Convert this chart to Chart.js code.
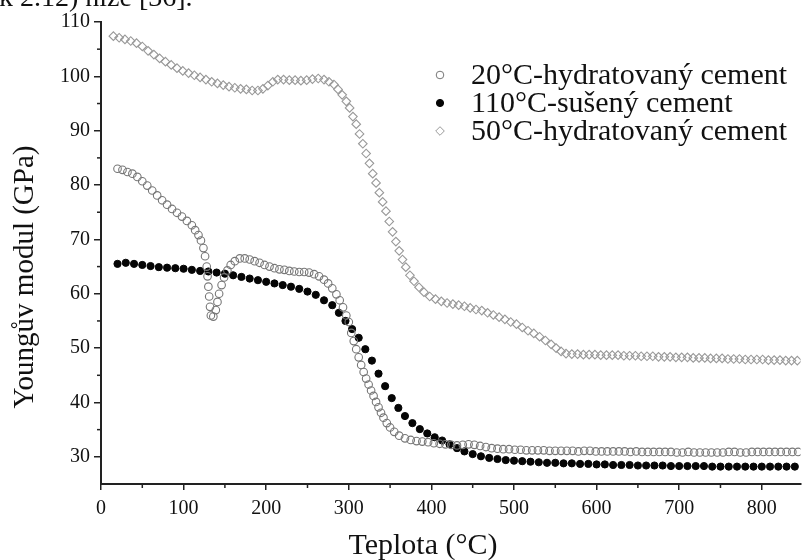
<!DOCTYPE html>
<html><head><meta charset="utf-8">
<script src="https://cdn.jsdelivr.net/npm/chart.js@4.4.1/dist/chart.umd.min.js"></script>
<style>html,body{margin:0;padding:0;background:#fff;overflow:hidden}
#wrap{position:relative;width:806px;height:560px}
canvas{position:absolute;left:0;top:0}
</style></head><body><div id="wrap"><canvas id="c" width="806" height="560"></canvas></div>
<script>
const xTicks=[0,100,200,300,400,500,600,700,800];
const xMinorTicks=[50,150,250,350,450,550,650,750];
const yTicks=[30,40,50,60,70,80,90,100,110];
const yMinorTicks=[35,45,55,65,75,85,95,105];
const seriesNames=['20°C-hydratovaný cement','110°C-sušený cement','50°C-hydratovaný cement'];
const xTitle='Teplota (°C)';
const yTitle='Youngův modul (GPa)';
const topCaption='k 2.12) níže [36].';

const temps20=[20,26,32,38,44,50,56,62,68,74,80,86,92,98,104,110,114,118,121,124,126,128,129,130,131,132,133,136,139,141,143,146,149,153,157,162,168,174,180,186,192,198,204,210,216,222,228,234,240,246,252,258,264,270,275,280,285,289,293,297,300,303,306,309,312,315,318,321,324,327,330,333,336,339,342,346,350,355,361,368,375,382,389,396,403,410,417,424,431,438,445,452,459,466,473,480,487,494,501,508,515,522,529,536,543,550,557,564,571,578,585,592,599,606,613,620,627,634,641,648,655,662,669,676,683,690,697,704,711,718,725,732,739,746,753,760,767,774,781,788,795,802,809,816,823,830,837,844];
const modulus20=[83.0,82.8,82.4,82.1,81.5,80.7,79.9,79.0,78.1,77.2,76.4,75.6,74.9,74.2,73.4,72.6,71.7,70.8,69.8,68.4,66.9,65.0,63.2,61.3,59.5,57.6,56.0,55.8,57.0,58.5,60.0,61.6,63.0,64.3,65.3,66.0,66.5,66.5,66.3,66.0,65.7,65.3,65.0,64.7,64.5,64.4,64.2,64.1,64.0,64.0,63.9,63.6,63.2,62.6,61.9,61.0,59.9,58.8,57.5,56.0,54.8,52.8,51.3,49.8,48.3,46.9,45.6,44.4,43.3,42.2,41.2,40.1,39.1,38.1,37.2,36.2,35.4,34.6,33.9,33.4,33.1,32.9,32.8,32.7,32.5,32.4,32.3,32.2,32.1,32.2,32.3,32.2,32.0,31.8,31.6,31.5,31.4,31.4,31.3,31.3,31.2,31.2,31.2,31.2,31.1,31.1,31.1,31.1,31.1,31.0,31.1,31.1,31.0,31.0,31.0,31.0,31.0,31.0,30.9,31.0,30.9,30.9,30.9,30.9,30.9,30.9,30.8,30.8,30.9,30.8,30.8,30.8,30.8,30.8,30.8,30.9,30.9,30.8,30.8,30.9,30.9,30.9,30.9,30.9,30.9,30.9,30.9,30.9];

const temps110=[20,30,40,50,60,70,80,90,100,110,120,130,140,150,160,170,180,190,200,210,220,230,240,250,260,270,280,288,296,304,312,320,328,336,344,352,360,368,377,386,395,404,413,422,431,440,450,460,470,480,490,500,510,520,530,540,550,560,570,580,590,600,610,620,630,640,650,660,670,680,690,700,710,720,730,740,750,760,770,780,790,800,810,820,830,840];
const modulus110=[65.5,65.7,65.5,65.3,65.1,64.9,64.8,64.7,64.6,64.4,64.2,64.1,63.9,63.7,63.4,63.1,62.8,62.5,62.2,61.9,61.6,61.3,60.9,60.4,59.8,58.8,57.9,56.5,55.0,53.5,51.9,49.8,47.7,45.3,43.0,40.8,39.0,37.5,36.2,35.1,34.3,33.6,33.0,32.3,31.6,31.0,30.5,30.1,29.8,29.6,29.4,29.3,29.2,29.1,29.0,28.9,28.9,28.8,28.8,28.7,28.7,28.6,28.6,28.5,28.5,28.5,28.4,28.4,28.4,28.4,28.3,28.3,28.3,28.3,28.3,28.2,28.2,28.2,28.2,28.2,28.2,28.2,28.2,28.2,28.2,28.2];

const temps50=[15,22,29,36,43,50,57,64,71,78,85,92,99,106,113,120,127,134,141,148,155,162,169,176,183,190,196,202,208,214,221,228,235,242,249,256,263,270,276,282,287,292,297,301,305,309,313,317,321,325,329,333,337,341,345,349,353,357,361,365,369,374,379,385,391,398,405,412,419,426,433,440,447,454,461,468,475,482,489,496,503,510,517,524,531,538,545,551,557,563,570,577,584,591,598,605,612,619,626,633,640,647,654,661,668,675,682,689,696,703,710,717,724,731,738,745,752,759,766,773,780,787,794,801,808,815,822,829,836,843];
const modulus50=[107.4,107.1,106.8,106.5,106.1,105.5,104.7,104.0,103.3,102.7,102.1,101.5,101.0,100.6,100.2,99.8,99.4,99.0,98.7,98.4,98.1,97.9,97.7,97.6,97.4,97.4,97.7,98.3,99.0,99.4,99.4,99.3,99.3,99.2,99.3,99.5,99.6,99.4,99.0,98.5,97.6,96.6,95.4,94.2,92.6,91.2,89.4,87.6,85.8,84.0,82.1,80.4,78.6,76.9,75.2,73.3,71.4,69.6,67.9,66.3,64.9,63.4,62.3,61.2,60.3,59.5,59.0,58.6,58.3,58.1,57.9,57.7,57.4,57.1,56.9,56.5,56.1,55.7,55.3,54.8,54.4,53.8,53.2,52.7,52.1,51.4,50.7,50.0,49.4,49.0,48.9,48.9,48.8,48.8,48.8,48.7,48.7,48.7,48.7,48.6,48.6,48.6,48.5,48.5,48.5,48.4,48.4,48.4,48.3,48.3,48.3,48.2,48.2,48.2,48.1,48.1,48.1,48.0,48.0,48.0,47.9,47.9,47.9,47.9,47.8,47.8,47.8,47.7,47.7,47.7];

const pts=(xs,ys)=>xs.map((x,i)=>({x:x,y:ys[i]}));
const SERIF='"Liberation Serif","Times New Roman",serif';
const styles=[
  {pointStyle:'circle',pointRadius:3.8,backgroundColor:'rgba(255,255,255,0)',borderColor:'#777',borderWidth:1.1},
  {pointStyle:'circle',pointRadius:3.6,backgroundColor:'#050505',borderColor:'#050505',borderWidth:1},
  {pointStyle:'rectRot',pointRadius:4.3,backgroundColor:'rgba(255,255,255,0)',borderColor:'#999',borderWidth:1.1}
];

const decor={
  id:'decor',
  afterDraw(chart){
    const ctx=chart.ctx, xs=chart.scales.x, ys=chart.scales.y, ca=chart.chartArea;
    ctx.save();
    ctx.strokeStyle='#222'; ctx.lineWidth=1.5;
    yMinorTicks.forEach(v=>{const p=ys.getPixelForValue(v);ctx.beginPath();ctx.moveTo(ca.left-4,p);ctx.lineTo(ca.left,p);ctx.stroke();});
    xMinorTicks.forEach(v=>{const p=xs.getPixelForValue(v);ctx.beginPath();ctx.moveTo(p,ca.bottom);ctx.lineTo(p,ca.bottom+4);ctx.stroke();});
    ctx.fillStyle='#111';
    ctx.font='28px '+SERIF; ctx.textAlign='left'; ctx.textBaseline='alphabetic';
    ctx.fillText(topCaption,-1,6);
    ctx.textAlign='center'; ctx.textBaseline='middle';
    ctx.font='30px '+SERIF;
    ctx.fillText(xTitle,423,546);
    ctx.font='29px '+SERIF;
    ctx.save(); ctx.translate(25,277); ctx.rotate(-Math.PI/2); ctx.fillText(yTitle,0,0); ctx.restore();
    const ly=[75,103,131];
    ctx.font='30px '+SERIF; ctx.textAlign='left';
    seriesNames.forEach((n,i)=>{
      const s=styles[i], x=440, y=ly[i];
      ctx.beginPath();
      if(s.pointStyle==='rectRot'){ctx.moveTo(x,y-s.pointRadius);ctx.lineTo(x+s.pointRadius,y);ctx.lineTo(x,y+s.pointRadius);ctx.lineTo(x-s.pointRadius,y);ctx.closePath();}
      else ctx.arc(x,y,s.pointRadius,0,Math.PI*2);
      ctx.fillStyle=s.backgroundColor; ctx.fill();
      ctx.strokeStyle=s.borderColor; ctx.lineWidth=1; ctx.stroke();
      ctx.fillStyle='#111';
      ctx.fillText(n,471,y+1);
    });
    ctx.restore();
  }
};

const ds=[pts(temps20,modulus20),pts(temps110,modulus110),pts(temps50,modulus50)].map((d,i)=>Object.assign({label:seriesNames[i],data:d,showLine:false},styles[i]));

new Chart(document.getElementById('c'),{
  type:'scatter',
  data:{datasets:ds},
  plugins:[decor],
  options:{
    responsive:false,animation:false,
    layout:{padding:{top:22,right:0,left:0,bottom:0}},
    plugins:{legend:{display:false},tooltip:{enabled:false}},
    scales:{
      x:{type:'linear',min:0,max:847,
        afterBuildTicks:s=>{s.ticks=xTicks.map(v=>({value:v}));},
        afterFit:s=>{s.height=76;},
        grid:{drawOnChartArea:false,drawTicks:true,tickLength:6,color:'#222',lineWidth:1.5},
        border:{display:true,color:'#222',width:2},
        ticks:{font:{family:SERIF,size:20},color:'#111',padding:7,maxRotation:0,autoSkip:false}},
      y:{type:'linear',min:25,max:110,
        afterBuildTicks:s=>{s.ticks=yTicks.map(v=>({value:v}));},
        afterFit:s=>{s.width=101;},
        grid:{drawOnChartArea:false,drawTicks:true,tickLength:7,color:'#222',lineWidth:1.5},
        border:{display:true,color:'#222',width:2},
        ticks:{font:{family:SERIF,size:20},color:'#111',padding:4,autoSkip:false}}
    }
  }
});
</script></body></html>
